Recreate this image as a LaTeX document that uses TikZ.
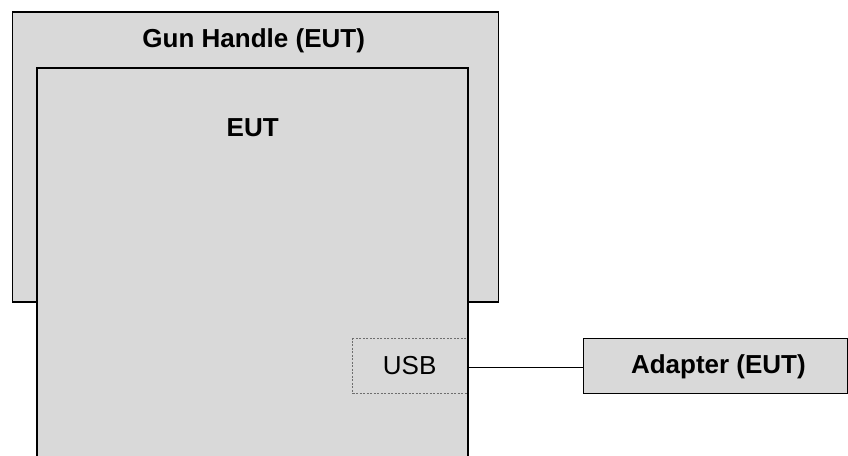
\documentclass[tikz,border=0pt]{standalone}
\usepackage{fontspec}
\setmainfont{Liberation Sans}
\definecolor{boxfill}{RGB}{217,217,217}
\definecolor{usbline}{RGB}{110,110,110}
\begin{document}
\begin{tikzpicture}[x=1pt,y=-1pt,
  box/.style={draw=black,fill=boxfill,inner sep=0pt,rectangle},
  lbl/.style={font=\fontsize{26}{30}\selectfont\bfseries,inner sep=0pt,anchor=base},
  plainlbl/.style={font=\fontsize{26}{30}\selectfont,inner sep=0pt,anchor=base},
  usbbox/.style={draw=usbline,fill=boxfill,dash pattern=on 2pt off 1.5pt,line width=0.6pt,inner sep=0pt,rectangle},
  wire/.style={draw=black,line width=1pt}]
\useasboundingbox (0,0) rectangle (848,455);
\begin{scope}
\clip (0,0) rectangle (848,455);
% Gun handle box
\node[box,line width=1.3pt,anchor=north west,minimum width=486pt,minimum height=290pt] (gun) at (12,11.3) {};
\node[lbl] (gunlbl) at (253.7,47.7) {Gun Handle (EUT)};
% EUT box (open at bottom, extends past the picture)
\node[fill=boxfill,inner sep=0pt,rectangle,anchor=north west,minimum width=431pt,minimum height=400pt] (eut) at (36.7,67.7) {};
\draw[line width=2pt] (eut.south west) -- (eut.north west) -- (eut.north east) -- (eut.south east);
\node[lbl] (eutlbl) at (252.7,136.7) {EUT};
% USB port
\node[usbbox,anchor=north west,minimum width=115pt,minimum height=55pt] (usb) at (352.3,338.3) {};
\node[plainlbl] (usblbl) at (409.7,374) {USB};
\draw[line width=2pt] (eut.north east) -- (eut.south east);
% Adapter
\node[box,line width=1pt,anchor=north west,minimum width=264pt,minimum height=54.4pt] (adapter) at (583,338.3) {};
\node[lbl] (adlbl) at (718.4,373.3) {Adapter (EUT)};
\draw[wire] (usb.east |- 0,367.3) -- (adapter.west |- 0,367.3);
\end{scope}
\end{tikzpicture}
\end{document}
